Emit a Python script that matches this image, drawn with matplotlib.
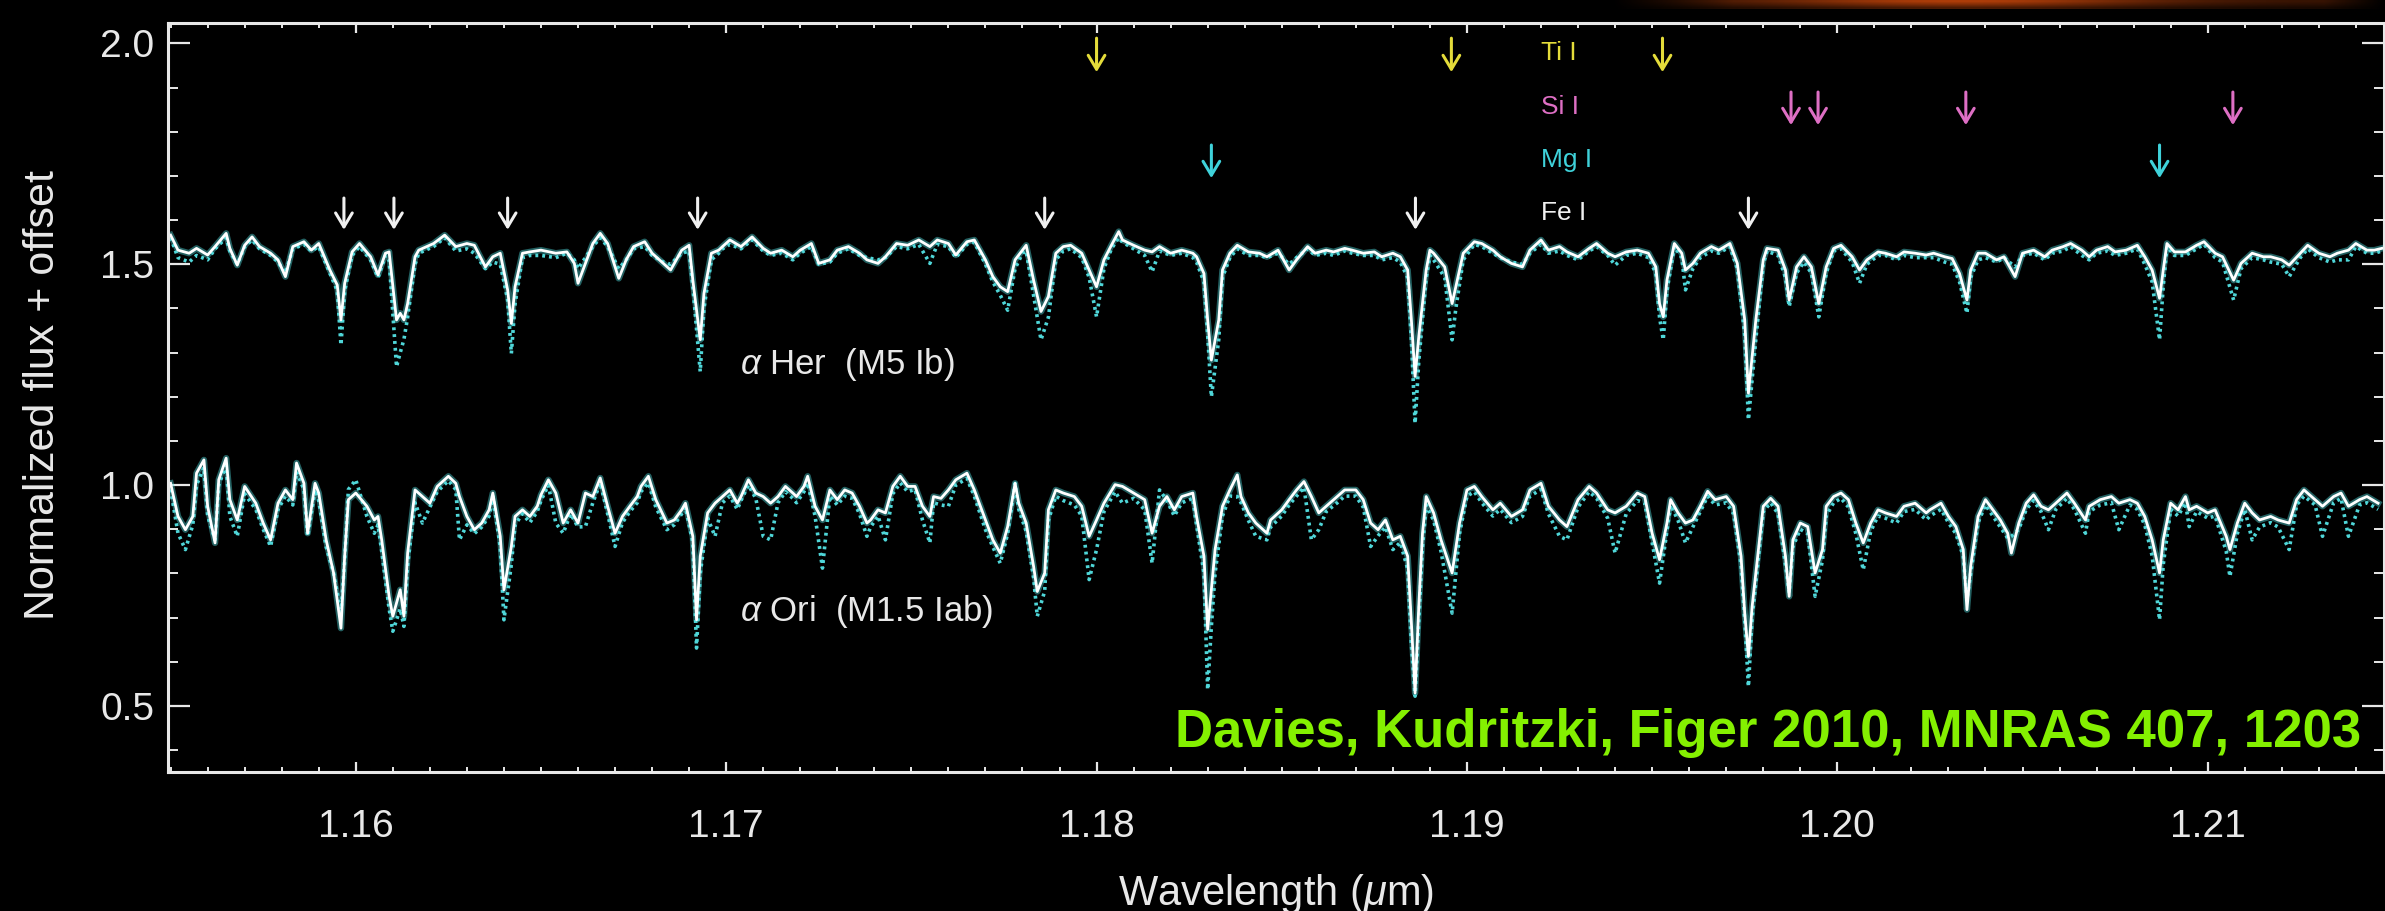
"""Alpha Her / alpha Ori J-band spectra with line markers (Davies, Kudritzki, Figer 2010)."""

from __future__ import annotations

import matplotlib
matplotlib.use("Agg")
import matplotlib.pyplot as plt
import numpy as np
from matplotlib.ticker import FormatStrFormatter, MultipleLocator

plt.rcParams["font.family"] = ["Liberation Sans", "DejaVu Sans"]
plt.rcParams["mathtext.fontset"] = "custom"
plt.rcParams["mathtext.rm"] = "Liberation Sans"
plt.rcParams["mathtext.it"] = "Liberation Sans:italic"

# alpha Her (M5 Ib): wavelength (um), observed flux + offset, model flux + offset
her_wave = [
    1.1550, 1.1552, 1.1555, 1.1557, 1.1560, 1.1562, 1.1565, 1.1566, 1.1568, 1.1570,
    1.1572, 1.1574, 1.1577, 1.1579, 1.1581, 1.1583, 1.1586, 1.1588, 1.1590, 1.1593,
    1.1595, 1.1596, 1.1597, 1.1599, 1.1601, 1.1604, 1.1606, 1.1608, 1.1609, 1.1611,
    1.1612, 1.1613, 1.1614, 1.1616, 1.1617, 1.1621, 1.1624, 1.1627, 1.1630, 1.1632,
    1.1635, 1.1637, 1.1639, 1.1641, 1.1642, 1.1643, 1.1645, 1.1647, 1.1650, 1.1654,
    1.1657, 1.1659, 1.1660, 1.1662, 1.1664, 1.1666, 1.1668, 1.1671, 1.1673, 1.1675,
    1.1678, 1.1680, 1.1683, 1.1685, 1.1688, 1.1690, 1.1691, 1.1693, 1.1694, 1.1696,
    1.1698, 1.1699, 1.1701, 1.1704, 1.1707, 1.1710, 1.1712, 1.1715, 1.1718, 1.1720,
    1.1723, 1.1725, 1.1728, 1.1730, 1.1733, 1.1736, 1.1738, 1.1741, 1.1743, 1.1746,
    1.1749, 1.1752, 1.1755, 1.1757, 1.1760, 1.1762, 1.1765, 1.1767, 1.1770, 1.1772,
    1.1774, 1.1776, 1.1778, 1.1780, 1.1781, 1.1783, 1.1785, 1.1787, 1.1789, 1.1791,
    1.1793, 1.1796, 1.1798, 1.1800, 1.1802, 1.1804, 1.1806, 1.1807, 1.1810, 1.1813,
    1.1815, 1.1817, 1.1820, 1.1823, 1.1826, 1.1827, 1.1829, 1.1830, 1.1831, 1.1833,
    1.1834, 1.1836, 1.1838, 1.1841, 1.1844, 1.1846, 1.1849, 1.1852, 1.1854, 1.1857,
    1.1859, 1.1862, 1.1864, 1.1867, 1.1869, 1.1872, 1.1875, 1.1877, 1.1880, 1.1882,
    1.1884, 1.1885, 1.1886, 1.1887, 1.1889, 1.1890, 1.1891, 1.1894, 1.1896, 1.1897,
    1.1899, 1.1902, 1.1904, 1.1907, 1.1909, 1.1912, 1.1915, 1.1917, 1.1920, 1.1922,
    1.1925, 1.1927, 1.1930, 1.1933, 1.1935, 1.1938, 1.1940, 1.1943, 1.1946,
    1.1949, 1.1951, 1.1952, 1.1953, 1.1954, 1.1956, 1.1958, 1.1959, 1.1961, 1.1963,
    1.1966, 1.1968, 1.1971, 1.1973, 1.1975, 1.1976, 1.1978, 1.1980, 1.1981, 1.1984,
    1.1986, 1.1987, 1.1989, 1.1991, 1.1993, 1.1995, 1.1997, 1.1999, 1.2001, 1.2004,
    1.2006, 1.2008, 1.2011, 1.2013, 1.2016, 1.2018, 1.2021, 1.2024, 1.2026, 1.2029,
    1.2031, 1.2033, 1.2035, 1.2036, 1.2038, 1.2040, 1.2043, 1.2045, 1.2048, 1.2050,
    1.2053, 1.2056, 1.2058, 1.2061, 1.2063, 1.2066, 1.2068, 1.2070, 1.2073, 1.2075,
    1.2078, 1.2081, 1.2083, 1.2085, 1.2087, 1.2088, 1.2089, 1.2091, 1.2094, 1.2097,
    1.2099, 1.2102, 1.2104, 1.2107, 1.2109, 1.2112, 1.2115, 1.2117, 1.2120, 1.2122,
    1.2125, 1.2127, 1.2130, 1.2133, 1.2135, 1.2138, 1.2140, 1.2143, 1.2145, 1.2147,
]
her_obs = [
    1.566, 1.532, 1.525, 1.536, 1.521, 1.540, 1.570, 1.536, 1.498, 1.543,
    1.562, 1.540, 1.525, 1.510, 1.472, 1.540, 1.551, 1.532, 1.547, 1.487,
    1.453, 1.374, 1.457, 1.528, 1.547, 1.517, 1.476, 1.525, 1.528, 1.374,
    1.389, 1.374, 1.411, 1.517, 1.532, 1.547, 1.566, 1.540, 1.547, 1.543,
    1.494, 1.517, 1.525, 1.442, 1.366, 1.449, 1.525, 1.528, 1.532, 1.525,
    1.528, 1.502, 1.457, 1.502, 1.547, 1.570, 1.547, 1.468, 1.510, 1.540,
    1.551, 1.525, 1.502, 1.487, 1.532, 1.543, 1.464, 1.329, 1.434, 1.525,
    1.532, 1.540, 1.555, 1.540, 1.562, 1.536, 1.525, 1.532, 1.517, 1.532,
    1.547, 1.502, 1.510, 1.532, 1.540, 1.525, 1.510, 1.502, 1.517, 1.547,
    1.543, 1.555, 1.540, 1.555, 1.547, 1.521, 1.551, 1.555, 1.510, 1.472,
    1.449, 1.438, 1.510, 1.532, 1.543, 1.464, 1.393, 1.427, 1.525, 1.540,
    1.543, 1.525, 1.487, 1.449, 1.510, 1.543, 1.574, 1.555, 1.543, 1.532,
    1.528, 1.540, 1.525, 1.532, 1.525, 1.517, 1.479, 1.374, 1.283, 1.374,
    1.487, 1.525, 1.543, 1.528, 1.525, 1.517, 1.532, 1.487, 1.510, 1.540,
    1.525, 1.532, 1.528, 1.536, 1.532, 1.525, 1.528, 1.517, 1.525, 1.517,
    1.487, 1.374, 1.246, 1.336, 1.487, 1.532, 1.525, 1.494, 1.411, 1.449,
    1.525, 1.551, 1.547, 1.532, 1.517, 1.502, 1.494, 1.532, 1.555, 1.532,
    1.540, 1.528, 1.517, 1.536, 1.547, 1.525, 1.517, 1.528, 1.532,
    1.525, 1.494, 1.411, 1.381, 1.464, 1.547, 1.525, 1.487, 1.502, 1.525,
    1.540, 1.532, 1.547, 1.502, 1.374, 1.208, 1.374, 1.510, 1.536, 1.532,
    1.487, 1.419, 1.494, 1.517, 1.494, 1.411, 1.494, 1.536, 1.543, 1.517,
    1.487, 1.510, 1.528, 1.525, 1.517, 1.528, 1.525, 1.521, 1.525, 1.517,
    1.513, 1.479, 1.419, 1.487, 1.525, 1.525, 1.510, 1.517, 1.472, 1.525,
    1.532, 1.517, 1.532, 1.540, 1.547, 1.532, 1.517, 1.532, 1.540, 1.528,
    1.532, 1.543, 1.517, 1.487, 1.423, 1.487, 1.547, 1.528, 1.528, 1.543,
    1.551, 1.525, 1.517, 1.464, 1.502, 1.525, 1.517, 1.517, 1.510, 1.498,
    1.525, 1.543, 1.525, 1.517, 1.525, 1.532, 1.547, 1.532, 1.532, 1.536,
]
her_model = [
    1.560, 1.515, 1.505, 1.520, 1.510, 1.535, 1.560, 1.530, 1.500, 1.540,
    1.555, 1.535, 1.520, 1.505, 1.480, 1.535, 1.545, 1.530, 1.540, 1.480,
    1.440, 1.317, 1.440, 1.520, 1.540, 1.510, 1.470, 1.520, 1.510, 1.268,
    1.300, 1.330, 1.380, 1.500, 1.525, 1.540, 1.560, 1.530, 1.535, 1.525,
    1.490, 1.505, 1.500, 1.420, 1.298, 1.410, 1.515, 1.520, 1.520, 1.515,
    1.525, 1.510, 1.490, 1.515, 1.540, 1.560, 1.540, 1.490, 1.510, 1.535,
    1.540, 1.520, 1.505, 1.500, 1.525, 1.530, 1.450, 1.257, 1.400, 1.510,
    1.525, 1.535, 1.545, 1.535, 1.555, 1.530, 1.520, 1.525, 1.510, 1.525,
    1.540, 1.500, 1.505, 1.525, 1.535, 1.520, 1.515, 1.510, 1.515, 1.540,
    1.535, 1.545, 1.502, 1.545, 1.540, 1.515, 1.545, 1.550, 1.500, 1.460,
    1.430, 1.396, 1.490, 1.525, 1.530, 1.430, 1.329, 1.380, 1.510, 1.530,
    1.535, 1.515, 1.470, 1.381, 1.490, 1.535, 1.560, 1.550, 1.535, 1.520,
    1.483, 1.530, 1.520, 1.525, 1.515, 1.505, 1.460, 1.340, 1.200, 1.330,
    1.470, 1.515, 1.535, 1.520, 1.520, 1.515, 1.525, 1.500, 1.515, 1.535,
    1.520, 1.525, 1.520, 1.530, 1.525, 1.520, 1.520, 1.510, 1.515, 1.505,
    1.470, 1.330, 1.140, 1.280, 1.470, 1.520, 1.510, 1.470, 1.329, 1.400,
    1.510, 1.545, 1.540, 1.525, 1.515, 1.505, 1.500, 1.525, 1.545, 1.525,
    1.530, 1.520, 1.510, 1.530, 1.540, 1.520, 1.498, 1.520, 1.525,
    1.515, 1.480, 1.380, 1.329, 1.440, 1.540, 1.515, 1.442, 1.490, 1.515,
    1.530, 1.525, 1.540, 1.490, 1.340, 1.148, 1.330, 1.500, 1.530, 1.520,
    1.470, 1.404, 1.480, 1.505, 1.480, 1.381, 1.480, 1.530, 1.535, 1.505,
    1.457, 1.500, 1.520, 1.520, 1.510, 1.520, 1.515, 1.515, 1.515, 1.505,
    1.500, 1.460, 1.389, 1.470, 1.510, 1.515, 1.505, 1.515, 1.494, 1.520,
    1.525, 1.510, 1.525, 1.530, 1.540, 1.520, 1.510, 1.525, 1.530, 1.520,
    1.525, 1.535, 1.500, 1.460, 1.329, 1.450, 1.540, 1.520, 1.520, 1.535,
    1.545, 1.515, 1.505, 1.419, 1.490, 1.515, 1.510, 1.505, 1.500, 1.472,
    1.515, 1.535, 1.515, 1.505, 1.510, 1.510, 1.540, 1.525, 1.525, 1.530,
]

# alpha Ori (M1.5 Iab)
ori_wave = [
    1.1550, 1.1552, 1.1554, 1.1556, 1.1557, 1.1559, 1.1560, 1.1562, 1.1563, 1.1565,
    1.1566, 1.1568, 1.1570, 1.1573, 1.1575, 1.1577, 1.1579, 1.1581, 1.1583, 1.1584,
    1.1586, 1.1587, 1.1589, 1.1590, 1.1592, 1.1594, 1.1596, 1.1597, 1.1598, 1.1600,
    1.1603, 1.1605, 1.1606, 1.1607, 1.1609, 1.1610, 1.1612, 1.1613, 1.1614, 1.1616,
    1.1618, 1.1620, 1.1622, 1.1625, 1.1627, 1.1628, 1.1630, 1.1632, 1.1634, 1.1636,
    1.1637, 1.1639, 1.1640, 1.1642, 1.1643, 1.1645, 1.1647, 1.1649, 1.1650, 1.1652,
    1.1654, 1.1656, 1.1658, 1.1660, 1.1662, 1.1664, 1.1666, 1.1668, 1.1670, 1.1672,
    1.1674, 1.1676, 1.1677, 1.1679, 1.1681, 1.1684, 1.1686, 1.1688, 1.1689, 1.1691,
    1.1692, 1.1693, 1.1695, 1.1697, 1.1699, 1.1701, 1.1703, 1.1704, 1.1706, 1.1708,
    1.1710, 1.1712, 1.1714, 1.1716, 1.1718, 1.1719, 1.1721, 1.1722, 1.1724, 1.1726,
    1.1728, 1.1730, 1.1732, 1.1734, 1.1736, 1.1738, 1.1739, 1.1741, 1.1743, 1.1745,
    1.1747, 1.1749,
    1.1751, 1.1753, 1.1755, 1.1756, 1.1758, 1.1760, 1.1762, 1.1765, 1.1767, 1.1770,
    1.1772, 1.1774, 1.1776, 1.1778, 1.1779, 1.1781, 1.1783, 1.1784, 1.1786, 1.1787,
    1.1789, 1.1791, 1.1794, 1.1796, 1.1798, 1.1800, 1.1802, 1.1805, 1.1807, 1.1810,
    1.1813, 1.1815, 1.1817, 1.1819, 1.1821, 1.1823, 1.1826, 1.1827, 1.1829, 1.1830,
    1.1831, 1.1832, 1.1834, 1.1836, 1.1838, 1.1839, 1.1841, 1.1843, 1.1846, 1.1847,
    1.1850, 1.1852, 1.1854, 1.1856, 1.1858, 1.1860, 1.1862, 1.1865, 1.1867, 1.1870,
    1.1872, 1.1874, 1.1876, 1.1878, 1.1880, 1.1882, 1.1884, 1.1885, 1.1886, 1.1887,
    1.1888, 1.1889, 1.1891, 1.1893, 1.1896, 1.1898, 1.1900, 1.1902, 1.1904, 1.1907,
    1.1909, 1.1912, 1.1915, 1.1917, 1.1920, 1.1922, 1.1925, 1.1927, 1.1930, 1.1933,
    1.1935, 1.1938, 1.1940, 1.1943, 1.1946, 1.1948,
    1.1950, 1.1952, 1.1954, 1.1955, 1.1957, 1.1959, 1.1961, 1.1963, 1.1965, 1.1967,
    1.1970, 1.1972, 1.1974, 1.1975, 1.1976, 1.1977, 1.1979, 1.1980, 1.1982, 1.1984,
    1.1986, 1.1987, 1.1988, 1.1990, 1.1992, 1.1994, 1.1996, 1.1997, 1.1999, 1.2001,
    1.2003, 1.2005, 1.2007, 1.2009, 1.2011, 1.2013, 1.2016, 1.2018, 1.2021, 1.2024,
    1.2025, 1.2028, 1.2030, 1.2032, 1.2034, 1.2035, 1.2036, 1.2038, 1.2040, 1.2042,
    1.2044, 1.2046, 1.2047, 1.2049, 1.2051, 1.2053, 1.2055, 1.2057, 1.2059, 1.2062,
    1.2064, 1.2067, 1.2068, 1.2071, 1.2074, 1.2076, 1.2079, 1.2081, 1.2083, 1.2085,
    1.2087, 1.2088, 1.2090, 1.2092, 1.2094, 1.2095, 1.2097, 1.2100, 1.2102, 1.2105,
    1.2106, 1.2108, 1.2110, 1.2112, 1.2114, 1.2117, 1.2119, 1.2122, 1.2124, 1.2126,
    1.2129, 1.2131, 1.2134, 1.2136, 1.2138, 1.2141, 1.2143, 1.2146,
]
ori_obs = [
    1.004, 0.929, 0.899, 0.929, 1.027, 1.057, 0.952, 0.869, 1.012, 1.061,
    0.967, 0.921, 0.997, 0.959, 0.914, 0.876, 0.959, 0.989, 0.967, 1.050,
    1.004, 0.891, 1.004, 0.982, 0.876, 0.801, 0.676, 0.839, 0.967, 0.982,
    0.952, 0.921, 0.929, 0.876, 0.748, 0.703, 0.763, 0.703, 0.846, 0.989,
    0.974, 0.959, 0.997, 1.020, 1.004, 0.974, 0.929, 0.899, 0.914, 0.944,
    0.982, 0.884, 0.763, 0.861, 0.929, 0.944, 0.929, 0.952, 0.978, 1.012,
    0.982, 0.914, 0.944, 0.914, 0.982, 0.974, 1.016, 0.952, 0.891, 0.929,
    0.952, 0.974, 0.997, 1.020, 0.967, 0.914, 0.921, 0.944, 0.959, 0.884,
    0.695, 0.839, 0.937, 0.959, 0.974, 0.989, 0.959, 0.974, 1.012, 0.982,
    0.974, 0.959, 0.974, 0.997, 0.982, 0.974, 0.997, 1.020, 0.952, 0.921,
    0.989, 0.967, 0.989, 0.982, 0.952, 0.914, 0.921, 0.944, 0.937, 0.997,
    1.020, 0.997,
    0.997, 0.952, 0.929, 0.974, 0.970, 0.989, 1.012, 1.027, 0.989, 0.921,
    0.876, 0.846, 0.906, 1.004, 0.959, 0.914, 0.816, 0.759, 0.801, 0.944,
    0.989, 0.982, 0.974, 0.952, 0.884, 0.921, 0.959, 1.001, 0.997, 0.982,
    0.967, 0.891, 0.952, 0.974, 0.944, 0.974, 0.982, 0.929, 0.839, 0.673,
    0.763, 0.854, 0.952, 0.989, 1.023, 0.974, 0.937, 0.914, 0.891, 0.921,
    0.944, 0.967, 0.989, 1.008, 0.974, 0.937, 0.952, 0.974, 0.989, 0.989,
    0.967, 0.914, 0.899, 0.921, 0.876, 0.884, 0.839, 0.688, 0.529, 0.725,
    0.891, 0.974, 0.937, 0.876, 0.801, 0.914, 0.989, 0.997, 0.974, 0.944,
    0.959, 0.929, 0.944, 0.989, 1.004, 0.952, 0.921, 0.906, 0.967, 0.997,
    0.982, 0.944, 0.937, 0.952, 0.982, 0.974,
    0.891, 0.831, 0.914, 0.967, 0.937, 0.914, 0.921, 0.952, 0.986, 0.967,
    0.974, 0.952, 0.839, 0.710, 0.612, 0.725, 0.876, 0.952, 0.970, 0.952,
    0.839, 0.748, 0.876, 0.914, 0.906, 0.801, 0.854, 0.952, 0.974, 0.982,
    0.967, 0.914, 0.869, 0.914, 0.944, 0.937, 0.929, 0.952, 0.959, 0.937,
    0.944, 0.959, 0.929, 0.906, 0.854, 0.718, 0.816, 0.929, 0.967, 0.944,
    0.921, 0.891, 0.846, 0.914, 0.959, 0.978, 0.952, 0.944, 0.959, 0.982,
    0.959, 0.921, 0.952, 0.967, 0.974, 0.959, 0.967, 0.959, 0.929, 0.876,
    0.801, 0.876, 0.959, 0.944, 0.974, 0.944, 0.952, 0.937, 0.944, 0.884,
    0.854, 0.914, 0.959, 0.937, 0.921, 0.929, 0.921, 0.914, 0.967, 0.989,
    0.967, 0.952, 0.974, 0.982, 0.952, 0.967, 0.974, 0.959,
]
ori_model = [
    0.990, 0.891, 0.854, 0.910, 1.000, 1.040, 0.930, 0.876, 1.000, 1.045,
    0.929, 0.884, 0.980, 0.945, 0.900, 0.861, 0.945, 0.975, 0.955, 1.030,
    0.990, 0.884, 0.990, 0.965, 0.860, 0.801, 0.710, 0.830, 0.990, 1.012,
    0.929, 0.891, 0.910, 0.850, 0.720, 0.669, 0.720, 0.680, 0.820, 0.960,
    0.914, 0.950, 0.985, 1.010, 0.990, 0.876, 0.910, 0.890, 0.905, 0.930,
    0.975, 0.860, 0.695, 0.820, 0.910, 0.935, 0.915, 0.940, 0.965, 1.000,
    0.914, 0.891, 0.935, 0.905, 0.906, 0.960, 1.005, 0.935, 0.861, 0.915,
    0.940, 0.960, 0.985, 1.005, 0.950, 0.899, 0.910, 0.935, 0.950, 0.870,
    0.631, 0.800, 0.925, 0.884, 0.960, 0.975, 0.945, 0.965, 1.000, 0.970,
    0.884, 0.876, 0.960, 0.985, 0.970, 0.960, 0.985, 1.005, 0.930, 0.812,
    0.975, 0.955, 0.975, 0.970, 0.935, 0.884, 0.905, 0.930, 0.876, 0.980,
    1.005, 0.985,
    0.990, 0.921, 0.869, 0.960, 0.955, 0.952, 1.000, 1.015, 0.975, 0.899,
    0.860, 0.823, 0.890, 1.004, 0.945, 0.895, 0.790, 0.703, 0.760, 0.920,
    0.975, 0.965, 0.955, 0.930, 0.786, 0.854, 0.940, 0.985, 0.959, 0.970,
    0.944, 0.823, 0.989, 0.965, 0.930, 0.960, 0.970, 0.910, 0.800, 0.537,
    0.680, 0.800, 0.930, 0.975, 0.974, 0.960, 0.920, 0.884, 0.876, 0.905,
    0.930, 0.955, 0.975, 0.995, 0.876, 0.899, 0.940, 0.960, 0.975, 0.975,
    0.950, 0.861, 0.885, 0.905, 0.854, 0.870, 0.810, 0.640, 0.522, 0.690,
    0.860, 0.955, 0.920, 0.850, 0.710, 0.890, 0.975, 0.985, 0.960, 0.930,
    0.945, 0.915, 0.929, 0.975, 0.990, 0.935, 0.884, 0.876, 0.950, 0.985,
    0.970, 0.925, 0.846, 0.935, 0.965, 0.960,
    0.870, 0.778, 0.895, 0.955, 0.920, 0.869, 0.905, 0.940, 0.975, 0.955,
    0.960, 0.935, 0.820, 0.695, 0.544, 0.700, 0.860, 0.940, 0.960, 0.935,
    0.820, 0.756, 0.860, 0.900, 0.890, 0.748, 0.830, 0.930, 0.960, 0.970,
    0.950, 0.890, 0.808, 0.895, 0.930, 0.925, 0.914, 0.940, 0.945, 0.921,
    0.930, 0.945, 0.915, 0.890, 0.839, 0.740, 0.800, 0.915, 0.955, 0.930,
    0.905, 0.880, 0.884, 0.900, 0.945, 0.965, 0.940, 0.899, 0.945, 0.970,
    0.945, 0.891, 0.940, 0.955, 0.960, 0.899, 0.955, 0.945, 0.910, 0.840,
    0.695, 0.820, 0.945, 0.930, 0.960, 0.906, 0.940, 0.925, 0.930, 0.850,
    0.793, 0.890, 0.945, 0.876, 0.905, 0.915, 0.905, 0.854, 0.955, 0.975,
    0.955, 0.884, 0.960, 0.970, 0.884, 0.955, 0.960, 0.945,
]

# marked lines (um)
ti_lines = [1.18000, 1.18958, 1.19528]
si_lines = [1.19875, 1.19948, 1.20347, 1.21068]
mg_lines = [1.18310, 1.20870]
fe_lines = [1.15968, 1.16103, 1.16410, 1.16923, 1.17860, 1.18861, 1.19760]

FG = "#e8e8e8"
CYAN = "#4fd6d8"
# species label, lines, colour, arrow top, arrow tip, label y
SPECIES = [
    ("Ti I", ti_lines, "#e4dc3a", 2.012, 1.935, 1.978),
    ("Si I", si_lines, "#de6fc4", 1.890, 1.815, 1.856),
    ("Mg I", mg_lines, "#3fd2da", 1.770, 1.695, 1.736),
    ("Fe I", fe_lines, "#f0f0f0", 1.650, 1.578, 1.616),
]


def main() -> None:
    W, H = 2385, 911
    fig = plt.figure(figsize=(W / 100, H / 100), dpi=100, facecolor="black")

    # reddish slide glow along the top right edge
    gx = fig.add_axes([1612 / W, 1 - 9 / H, 1 - 1612 / W, 9 / H])
    gx.axis("off")
    xs = np.linspace(1612, W, 500)
    glow = 0.25 + 0.6 * np.exp(-((xs - 1960) / 190) ** 2)
    fade = np.clip((xs - 1612) / 120, 0, 1) * np.clip((W - xs) / 60, 0, 1)
    g = (glow * fade)[None, :, None]
    img = np.concatenate([g * 0.8, g * 0.28, g * 0.04], axis=2)
    img = np.repeat(img, 3, axis=0) * np.array([1.0, 0.75, 0.45])[:, None, None]
    gx.imshow(img, aspect="auto", interpolation="bilinear")

    ax = fig.add_axes([168 / W, 1 - 771.7 / H, (W - 1 - 168) / W, 749 / H])
    ax.set_facecolor("black")
    ax.set_xlim(1.15493, 1.21476)
    ax.set_ylim(0.351, 2.047)

    for wave, obs, model in ((her_wave, her_obs, her_model), (ori_wave, ori_obs, ori_model)):
        ax.plot(wave, obs, color=CYAN, lw=4.6, alpha=0.45, solid_joinstyle="round")
        ax.plot(wave, model, color=CYAN, lw=2.6, ls=(0, (0.8, 1.1)))
        ax.plot(wave, obs, color="white", lw=2.0, solid_joinstyle="round")

    for name, lines, col, top, tip, ylab in SPECIES:
        for x in lines:
            ax.annotate("", xy=(x, tip), xytext=(x, top),
                        arrowprops=dict(arrowstyle="->,head_length=0.5,head_width=0.3",
                                        color=col, lw=2.2, shrinkA=0, shrinkB=0,
                                        mutation_scale=20))
        ax.text(1.19201, ylab, name, color=col, fontsize=19, va="center", ha="left")

    ax.text(1.17036, 1.272, r"$\alpha$ Her  (M5 Ib)", color=FG, fontsize=25, va="center")
    ax.text(1.17036, 0.713, r"$\alpha$ Ori  (M1.5 Iab)", color=FG, fontsize=25, va="center")

    ax.text(0.9896, 0.033, "Davies, Kudritzki, Figer 2010, MNRAS 407, 1203",
            transform=ax.transAxes, ha="right", va="baseline",
            fontsize=38, fontweight="bold", color="#84f000")

    for s in ax.spines.values():
        s.set_color(FG)
        s.set_linewidth(2.2)
    ax.xaxis.set_major_locator(MultipleLocator(0.01))
    ax.xaxis.set_minor_locator(MultipleLocator(0.001))
    ax.yaxis.set_major_locator(MultipleLocator(0.5))
    ax.yaxis.set_minor_locator(MultipleLocator(0.1))
    ax.xaxis.set_major_formatter(FormatStrFormatter("%.2f"))
    ax.yaxis.set_major_formatter(FormatStrFormatter("%.1f"))
    ax.tick_params(which="both", direction="in", top=True, right=True,
                   colors=FG, labelcolor=FG)
    ax.tick_params(axis="x", which="major", length=7, width=1.6, pad=27, labelsize=28)
    ax.tick_params(axis="x", which="minor", length=3.5, width=1.4)
    ax.tick_params(axis="y", which="major", length=16, width=1.6, pad=10, labelsize=28)
    ax.tick_params(axis="y", which="minor", length=7.5, width=1.4)

    ax.set_xlabel(r"Wavelength ($\mu$m)", fontsize=30, color=FG)
    ax.xaxis.set_label_coords(0.4998, -0.1334)
    ax.set_ylabel("Normalized flux + offset", fontsize=31, color=FG)
    ax.yaxis.set_label_coords(-0.0474, 0.503)

    fig.savefig("out.png", dpi=100, facecolor="black")


if __name__ == "__main__":
    main()
